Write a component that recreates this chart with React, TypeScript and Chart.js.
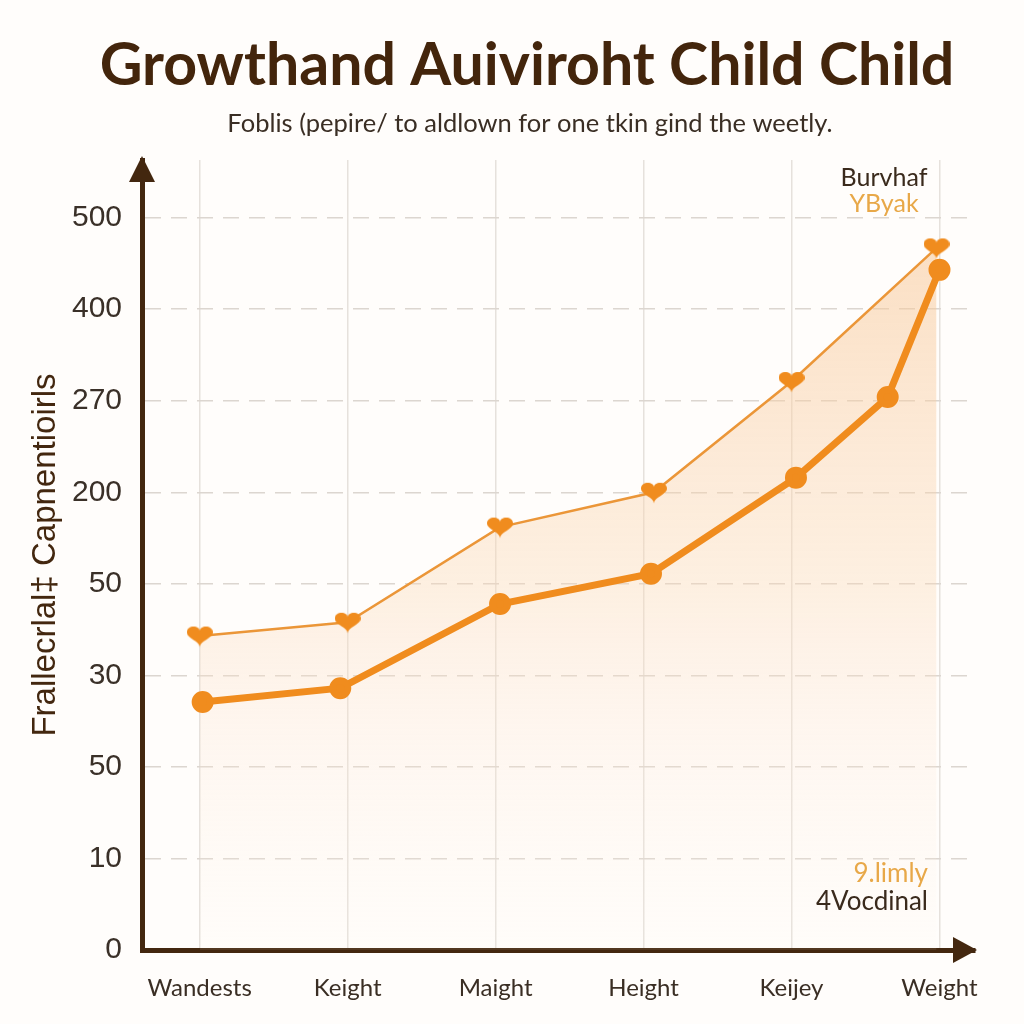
import React, { useEffect, useRef } from "react";
import { Chart, registerables } from "chart.js";

Chart.register(...registerables);

const titleText = "Growthand Auiviroht Child Child";
const subtitleText = "Foblis (pepire/ to aldlown for one tkin gind the weetly.";
const yAxisTitle = "Frallecrlal\u2021 Capnentioirls";
const xLabels = ["Wandests", "Keight", "Maight", "Height", "Keijey", "Weight"];
const yLabels = ["0", "10", "50", "30", "50", "200", "270", "400", "500"];

// upper series (heart markers), positions in axis units
const upperX = [0, 1, 2.03, 3.07, 4, 4.98];
const upperY = [3.43, 3.58, 4.62, 5.0, 6.21, 7.67];
// lower series (round markers)
const lowerX = [0.02, 0.95, 2.03, 3.05, 4.03, 4.65, 5.0];
const lowerY = [2.71, 2.86, 3.78, 4.11, 5.16, 6.04, 7.43];

const legendTop = ["Burvhaf", "YByak"];
const legendBottom = ["9.limly", "4Vocdinal"];

const DARK = "#43270f";
const ORANGE = "#f08c1e";

function makeHeart(w: number, h: number, color: string) {
  const c = document.createElement("canvas");
  c.width = w;
  c.height = h;
  const ctx = c.getContext("2d")!;
  ctx.fillStyle = color;
  ctx.beginPath();
  ctx.moveTo(w / 2, h * 0.28);
  ctx.bezierCurveTo(w / 2, h * 0.02, 0, h * 0.0, 0, h * 0.35);
  ctx.bezierCurveTo(0, h * 0.6, w / 2, h * 0.72, w / 2, h * 0.98);
  ctx.bezierCurveTo(w / 2, h * 0.72, w, h * 0.6, w, h * 0.35);
  ctx.bezierCurveTo(w, h * 0.0, w / 2, h * 0.02, w / 2, h * 0.28);
  ctx.closePath();
  ctx.fill();
  return c;
}

const decorPlugin = {
  id: "decor",
  afterDraw(chart: any) {
    const { ctx, chartArea } = chart;
    const { left, right, top, bottom } = chartArea;
    ctx.save();
    // titles
    ctx.textAlign = "center";
    ctx.textBaseline = "middle";
    ctx.fillStyle = "#43250c";
    ctx.font = "bold 59px Lato";
    ctx.fillText(titleText, 527, 66);
    ctx.fillStyle = "#3a2e24";
    ctx.font = "25.5px Lato";
    ctx.fillText(subtitleText, 530, 124);

    ctx.fillStyle = DARK;
    // y arrow
    ctx.beginPath();
    ctx.moveTo(left, top - 4);
    ctx.lineTo(left - 13, top + 22);
    ctx.lineTo(left + 13, top + 22);
    ctx.closePath();
    ctx.fill();
    // x arrow
    ctx.beginPath();
    ctx.moveTo(right + 2, bottom);
    ctx.lineTo(right - 22, bottom - 13);
    ctx.lineTo(right - 22, bottom + 13);
    ctx.closePath();
    ctx.fill();

    ctx.font = "25px Lato";
    ctx.textAlign = "center";
    ctx.fillStyle = "#3a2a1c";
    ctx.fillText(legendTop[0], 884, 178);
    ctx.fillStyle = "#e8a848";
    ctx.fillText(legendTop[1], 884, 204);

    ctx.textAlign = "right";
    ctx.font = "26px Lato";
    ctx.fillStyle = "#e8a848";
    ctx.fillText(legendBottom[0], 928, 874);
    ctx.fillStyle = "#3a2a1c";
    ctx.fillText(legendBottom[1], 928, 902);
    ctx.restore();
  },
};

export default function App() {
  const ref = useRef<HTMLCanvasElement>(null);

  useEffect(() => {
    if (!ref.current) return;
    const heart = makeHeart(26, 23, ORANGE);
    const chart = new Chart(ref.current, {
      type: "line",
      data: {
        datasets: [
          {
            label: legendTop[1],
            data: upperX.map((x, i) => ({ x, y: upperY[i] })),
            borderColor: "#eb9638",
            borderWidth: 2.5,
            pointStyle: heart as any,
            pointRadius: 12,
            fill: "origin",
            backgroundColor: (context: any) => {
              const { chart } = context;
              const { ctx, chartArea } = chart;
              if (!chartArea) return "rgba(250,210,170,0.4)";
              const g = ctx.createLinearGradient(0, chartArea.top + 60, 0, chartArea.bottom);
              g.addColorStop(0, "rgba(247,196,145,0.55)");
              g.addColorStop(0.5, "rgba(250,215,180,0.36)");
              g.addColorStop(1, "rgba(255,245,235,0.08)");
              return g;
            },
            tension: 0,
            order: 2,
          },
          {
            label: legendBottom[1],
            data: lowerX.map((x, i) => ({ x, y: lowerY[i] })),
            borderColor: ORANGE,
            borderWidth: 7,
            pointStyle: "circle",
            pointRadius: 7.5,
            pointBackgroundColor: ORANGE,
            pointBorderColor: ORANGE,
            fill: false,
            tension: 0,
            order: 1,
          },
        ],
      },
      options: {
        animation: false,
        responsive: false,
        layout: { padding: { left: 0, right: 49, top: 160, bottom: 0 } },
        plugins: {
          legend: { display: false },
          tooltip: { enabled: false },
          filler: { drawTime: "beforeDatasetsDraw" },
          title: { display: false },
          subtitle: { display: false },
        },
        scales: {
          x: {
            type: "linear",
            min: -0.39,
            max: 5.24,
            afterBuildTicks: (scale: any) => {
              scale.ticks = xLabels.map((_, i) => ({ value: i }));
            },
            afterFit: (scale: any) => {
              scale.height = 74;
            },
            ticks: {
              callback: (v: any) => xLabels[Math.round(v)] ?? "",
              color: "#3a2e24",
              font: { family: "Lato", size: 24 },
              padding: 24,
              maxRotation: 0,
            },
            grid: { color: "#e6e1dc", lineWidth: 1.5, drawTicks: false },
            border: { color: DARK, width: 5 },
          },
          y: {
            type: "linear",
            min: 0,
            max: 8.63,
            afterBuildTicks: (scale: any) => {
              scale.ticks = yLabels.map((_, i) => ({ value: i }));
            },
            afterFit: (scale: any) => {
              scale.width = 142;
            },
            ticks: {
              callback: (v: any) => yLabels[Math.round(v)] ?? "",
              color: "#3a3028",
              font: { family: "Liberation Sans", size: 30 },
              padding: 20,
            },
            title: {
              display: true,
              text: yAxisTitle,
              color: DARK,
              font: { family: "Liberation Sans", size: 33 },
              padding: { top: 26, bottom: 0 },
            },
            grid: { color: "#dcd6d0", lineWidth: 1.5, drawTicks: false },
            border: { color: DARK, width: 5, dash: [16, 10] },
          },
        },
      },
      plugins: [decorPlugin],
    });
    return () => chart.destroy();
  }, []);

  return (
    <div style={{ position: "fixed", left: 0, top: 0, width: 1024, height: 1024, background: "#fffdfb" }}>
      <canvas ref={ref} width={1024} height={1024} style={{ width: 1024, height: 1024 }} />
    </div>
  );
}
